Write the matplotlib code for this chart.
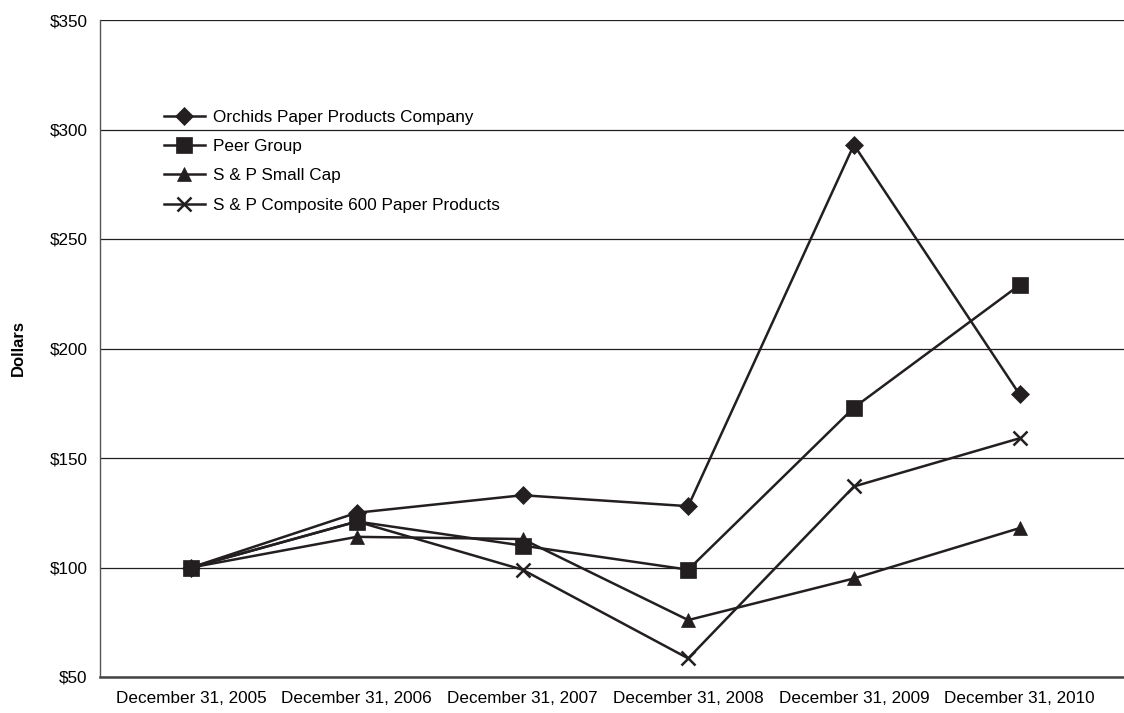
import numpy as np
import matplotlib
matplotlib.use("Agg")
import matplotlib.pyplot as plt

plt.rcParams['font.family'] = ['Liberation Sans', 'DejaVu Sans']

# data
years = ["December 31, 2005", "December 31, 2006", "December 31, 2007",
         "December 31, 2008", "December 31, 2009", "December 31, 2010"]
orchids = [100, 125, 133, 128, 293, 179]
peer_group = [100, 121, 110, 99, 173, 229]
small_cap = [100, 114, 113, 76, 95, 118]
composite_600 = [100, 121, 99, 58.5, 137, 159]

series = [
    ("Orchids Paper Products Company", orchids, "D", 9),
    ("Peer Group", peer_group, "s", 11),
    ("S & P Small Cap", small_cap, "^", 10),
    ("S & P Composite 600 Paper Products", composite_600, "x", 10),
]

ink = "#231f20"

fig = plt.figure(figsize=(11.24, 7.13), dpi=100)
ax = fig.add_axes([100/1124, 36/713, 1024/1124, 657/713])

x = np.arange(len(years))
for name, vals, mk, ms in series:
    ax.plot(x, vals, color=ink, lw=1.8, marker=mk, markersize=ms,
            markeredgewidth=1.8 if mk == "x" else 0.5, markeredgecolor=ink,
            markerfacecolor=ink, label=name, clip_on=False)

ax.set_ylim(50, 350)
ax.set_xlim(-0.55, 5.63)
ax.set_yticks(np.arange(50, 351, 50))
ax.set_yticklabels(["$%d" % v for v in range(50, 351, 50)], fontsize=12.3)
ax.set_xticks(x)
ax.set_xticklabels(years, fontsize=12.3)
ax.tick_params(length=0)
ax.tick_params(axis="y", pad=9)
ax.tick_params(axis="x", pad=10)
ax.yaxis.grid(True, color=ink, lw=0.9)
ax.set_axisbelow(True)

for side in ["top", "right"]:
    ax.spines[side].set_visible(False)
ax.spines["left"].set_color("#555555")
ax.spines["left"].set_linewidth(1.0)
ax.spines["bottom"].set_color("#444444")
ax.spines["bottom"].set_linewidth(1.8)

ax.set_ylabel("Dollars", fontsize=12, fontweight="bold")
ax.yaxis.set_label_coords(-74/1024, 0.5)

ax.legend(loc="upper left", bbox_to_anchor=(0.047, 0.887), frameon=False,
          fontsize=12.3, handlelength=2.4, labelspacing=0.84, handletextpad=0.5)

fig.savefig("out.png", dpi=100)
